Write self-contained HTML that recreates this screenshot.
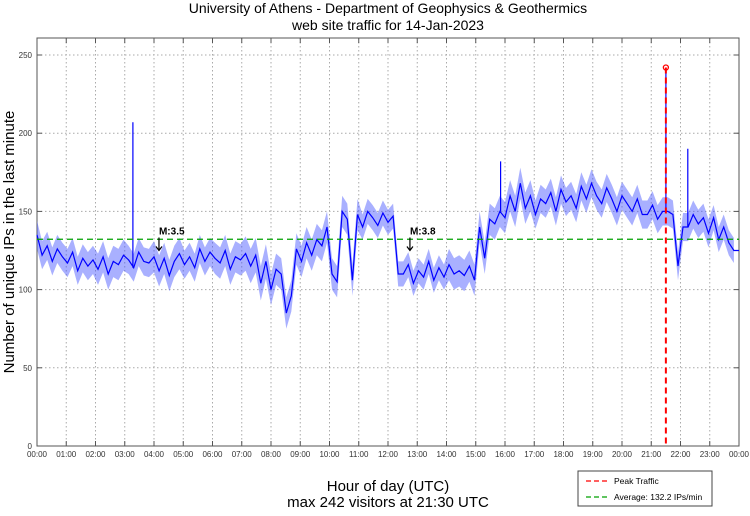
<!DOCTYPE html>
<html><head><meta charset="utf-8"><style>
body{margin:0;background:#fff;width:750px;height:511px;overflow:hidden;font-family:"Liberation Sans",sans-serif}
text{font-family:"Liberation Sans",sans-serif}
</style></head><body>
<svg id="chart" width="750" height="511" xmlns="http://www.w3.org/2000/svg">
<text x="388" y="13" font-size="14" text-anchor="middle">University of Athens - Department of Geophysics &amp; Geothermics</text>
<text x="388" y="30" font-size="14" text-anchor="middle">web site traffic for 14-Jan-2023</text>
<g id="grid"></g>
<g id="axes"></g>
<path id="band" fill="#4050ff" fill-opacity="0.45" stroke="none"/>
<path id="series" fill="none" stroke="#0000ff" stroke-width="1.2"/>
<line id="avg" stroke="#00a000" stroke-width="1.3" stroke-dasharray="6,4"/>
<line id="peak" stroke="#ff0000" stroke-width="2" stroke-dasharray="6,4"/>
<circle id="peakdot" r="2.5" fill="none" stroke="#ff0000" stroke-width="1.3"/>
<g id="ann"></g>
<text transform="translate(14,242) rotate(-90)" font-size="15" text-anchor="middle">Number of unique IPs in the last minute</text>
<text x="388" y="491" font-size="15" text-anchor="middle">Hour of day (UTC)</text>
<text x="388" y="507" font-size="15" text-anchor="middle">max 242 visitors at 21:30 UTC</text>
<g>
<rect x="578" y="471" width="134" height="35" fill="#fff" stroke="#444" stroke-width="1"/>
<line x1="586" y1="481" x2="609" y2="481" stroke="#ff0000" stroke-width="1.3" stroke-dasharray="5,3"/>
<text x="614" y="484" font-size="8.5">Peak Traffic</text>
<line x1="586" y1="497" x2="609" y2="497" stroke="#00a000" stroke-width="1.3" stroke-dasharray="5,3"/>
<text x="614" y="500" font-size="8.5">Average: 132.2 IPs/min</text>
</g>
</svg>
<script>
const yTicks=[0,50,100,150,200,250];
const xTickHours=[0,1,2,3,4,5,6,7,8,9,10,11,12,13,14,15,16,17,18,19,20,21,22,23,24];
const average=132.2;
const peakHour=21.5;
const peakValue=242;
const quakes=[{h:4.17,v:125,label:"M:3.5"},{h:12.75,v:125,label:"M:3.8"}];
// 10-minute samples (144 values)
const values=[
135,122,128,118,126,121, 117,124,112,120,115,119, 113,121,110,118,116,122,
119,114,124,118,117,121, 112,120,109,118,123,116, 121,114,126,118,124,120,
117,125,113,121,119,123, 115,122,104,118,100,113, 110,85,96,126,118,130,
122,132,128,140,110,105, 150,145,106,148,140,150, 146,141,149,143,147,110,
110,116,104,112,108,118, 106,114,108,116,110,112, 109,115,106,140,120,145,
142,150,146,160,150,168, 152,160,148,158,155,162, 150,164,156,160,152,166,
158,168,160,155,165,158, 150,160,155,150,158,148, 148,154,145,150,150,148,
115,140,140,148,142,146, 136,146,132,140,130,125
];
// per-hour noise spread (± IPs)
const spread=[9,9,10,9,10,9,10,11,10,10,10,8,8,8,10,10,10,9,9,9,9,9,9,8];
const spikes=[{h:3.28,v:207},{h:21.5,v:242},{h:22.25,v:190},{h:15.85,v:182}];
const X0=37,X1=739,Y0=446,Y1=38;
const xs=h=>X0+(X1-X0)*h/24;
const ys=v=>446-v*391/250;
const NS="http://www.w3.org/2000/svg";
function mk(tag,attrs,parent){const e=document.createElementNS(NS,tag);for(const k in attrs)e.setAttribute(k,attrs[k]);parent.appendChild(e);return e;}
const grid=document.getElementById('grid'),axes=document.getElementById('axes');
yTicks.forEach(t=>{
 const g=mk('line',{x1:X0,x2:X1,y1:ys(t),y2:ys(t),stroke:'#aaa','stroke-dasharray':'1.5,2.5'},grid);
 
 
 const l=mk('text',{x:X0-5,y:ys(t)+3,'font-size':8,'text-anchor':'end',fill:'#333'},axes);
 l.textContent=t;
 
 
 mk('line',{x1:X0,x2:X0+5,y1:ys(t),y2:ys(t),stroke:'#555'},axes);
 mk('line',{x1:X1-5,x2:X1,y1:ys(t),y2:ys(t),stroke:'#555'},axes);
});
xTickHours.forEach(h=>{
 const g=mk('line',{x1:xs(h),x2:xs(h),y1:Y1,y2:Y0,stroke:'#aaa','stroke-dasharray':'1.5,2.5'},grid);
 
 
 const l=mk('text',{x:xs(h),y:457,'font-size':8,'text-anchor':'middle',fill:'#333'},axes);
 l.textContent=String(h%24===0&&h>0?0:h).padStart(2,'0')+':00';
 
 
 mk('line',{x1:xs(h),x2:xs(h),y1:Y0-5,y2:Y0,stroke:'#555'},axes);
 mk('line',{x1:xs(h),x2:xs(h),y1:Y1,y2:Y1+5,stroke:'#555'},axes);
});
mk('rect',{x:X0,y:Y1,width:X1-X0,height:Y0-Y1,fill:'none',stroke:'#555'},axes);
const n=values.length;
const hAt=i=>i*24/n;
let up='',dn='';
values.forEach((v,i)=>{const s=spread[Math.floor(hAt(i))];up+=(i?'L':'M')+xs(hAt(i)).toFixed(1)+','+ys(v+s).toFixed(1);});
for(let i=n-1;i>=0;i--){const s=spread[Math.floor(hAt(i))];dn+='L'+xs(hAt(i)).toFixed(1)+','+ys(values[i]-s).toFixed(1);}
document.getElementById('band').setAttribute('d',up+dn+'Z');
let d='';
values.forEach((v,i)=>{d+=(i?'L':'M')+xs(hAt(i)).toFixed(1)+','+ys(v).toFixed(1);});
d+='L'+xs(24).toFixed(1)+','+ys(values[n-1]).toFixed(1);
spikes.forEach(s=>{const base=values[Math.min(n-1,Math.round(s.h*n/24))];d+='M'+xs(s.h).toFixed(1)+','+ys(base).toFixed(1)+'L'+xs(s.h).toFixed(1)+','+ys(s.v).toFixed(1);});
document.getElementById('series').setAttribute('d',d);
const a=document.getElementById('avg');a.setAttribute('x1',X0);a.setAttribute('x2',X1);a.setAttribute('y1',ys(average));a.setAttribute('y2',ys(average));
const p=document.getElementById('peak');p.setAttribute('x1',xs(peakHour));p.setAttribute('x2',xs(peakHour));p.setAttribute('y1',ys(peakValue));p.setAttribute('y2',Y0);
const pd=document.getElementById('peakdot');pd.setAttribute('cx',xs(peakHour));pd.setAttribute('cy',ys(peakValue));
const ann=document.getElementById('ann');
quakes.forEach(q=>{
 const x=xs(q.h),y=ys(q.v);
 const t=mk('text',{x:x,y:y-16,'font-size':10,'font-weight':'bold'},ann);
 t.textContent=q.label;
 
 
 const ar=mk('path',{d:`M${x},${y-13}L${x},${y}M${x-3},${y-4}L${x},${y}L${x+3},${y-4}`,stroke:'#000','stroke-width':1.2,fill:'none'},ann);
 
 
});
</script>
</body></html>
